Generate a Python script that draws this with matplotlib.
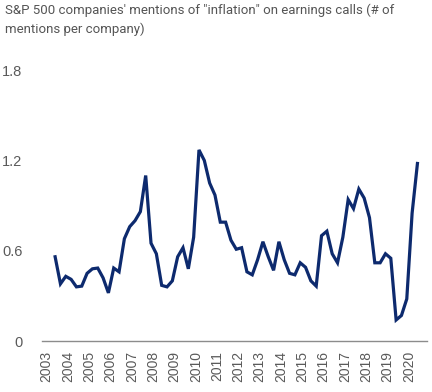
import numpy as np
import matplotlib
matplotlib.use("Agg")
import matplotlib.pyplot as plt

# quarterly mentions of "inflation" per company
start_year = 2003.4  # position of first quarterly observation
mentions = [0.56, 0.38, 0.43, 0.41, 0.36, 0.365, 0.45, 0.48, 0.485, 0.42,
            0.32, 0.485, 0.46, 0.68, 0.76, 0.80, 0.86, 1.10, 0.65, 0.58,
            0.37, 0.36, 0.40, 0.56, 0.62, 0.48, 0.69, 1.27, 1.20, 1.05,
            0.97, 0.79, 0.79, 0.67, 0.61, 0.62, 0.46, 0.44, 0.54, 0.66,
            0.56, 0.47, 0.66, 0.54, 0.45, 0.44, 0.52, 0.49, 0.40, 0.365,
            0.70, 0.73, 0.58, 0.52, 0.69, 0.94, 0.88, 1.01, 0.95, 0.82,
            0.52, 0.52, 0.58, 0.55, 0.14, 0.17, 0.28, 0.85, 1.18]
years = list(range(2003, 2021))
yticks = [0, 0.6, 1.2, 1.8]
ytick_labels = ["0", "0.6", "1.2", "1.8"]

x = start_year + 0.25 * np.arange(len(mentions))

plt.rcParams['font.family'] = ['Liberation Sans', 'DejaVu Sans']

fig = plt.figure(figsize=(4.32, 3.92), dpi=100)
ax = fig.add_axes([0.097, 0.130, 0.891, 0.691])

ax.plot(x, mentions, color='#0d2a6e', lw=2.3, solid_joinstyle='miter')

ax.set_xlim(2002.78, 2020.84)
ax.set_ylim(0, 1.8)
ax.set_xticks(years)
ax.set_xticklabels([str(y) for y in years], rotation=90, fontsize=10, color='#5a5a5a')
ax.set_yticks(yticks)
ax.set_yticklabels(ytick_labels, fontsize=10.5, color='#5a5a5a')
ax.tick_params(axis='both', length=0, pad=7)
ax.tick_params(axis='y', pad=14)

for side in ['top', 'right', 'left']:
    ax.spines[side].set_visible(False)
ax.spines['bottom'].set_color('#8c8c8c')
ax.spines['bottom'].set_linewidth(1.0)

fig.text(0.012, 0.99, "S&P 500 companies' mentions of \"inflation\" on earnings calls (# of\nmentions per company)",
         ha='left', va='top', fontsize=9.5, color='#555555', linespacing=1.55,
         family=['Roboto', 'DejaVu Sans'])

fig.savefig('out.png', dpi=100)
